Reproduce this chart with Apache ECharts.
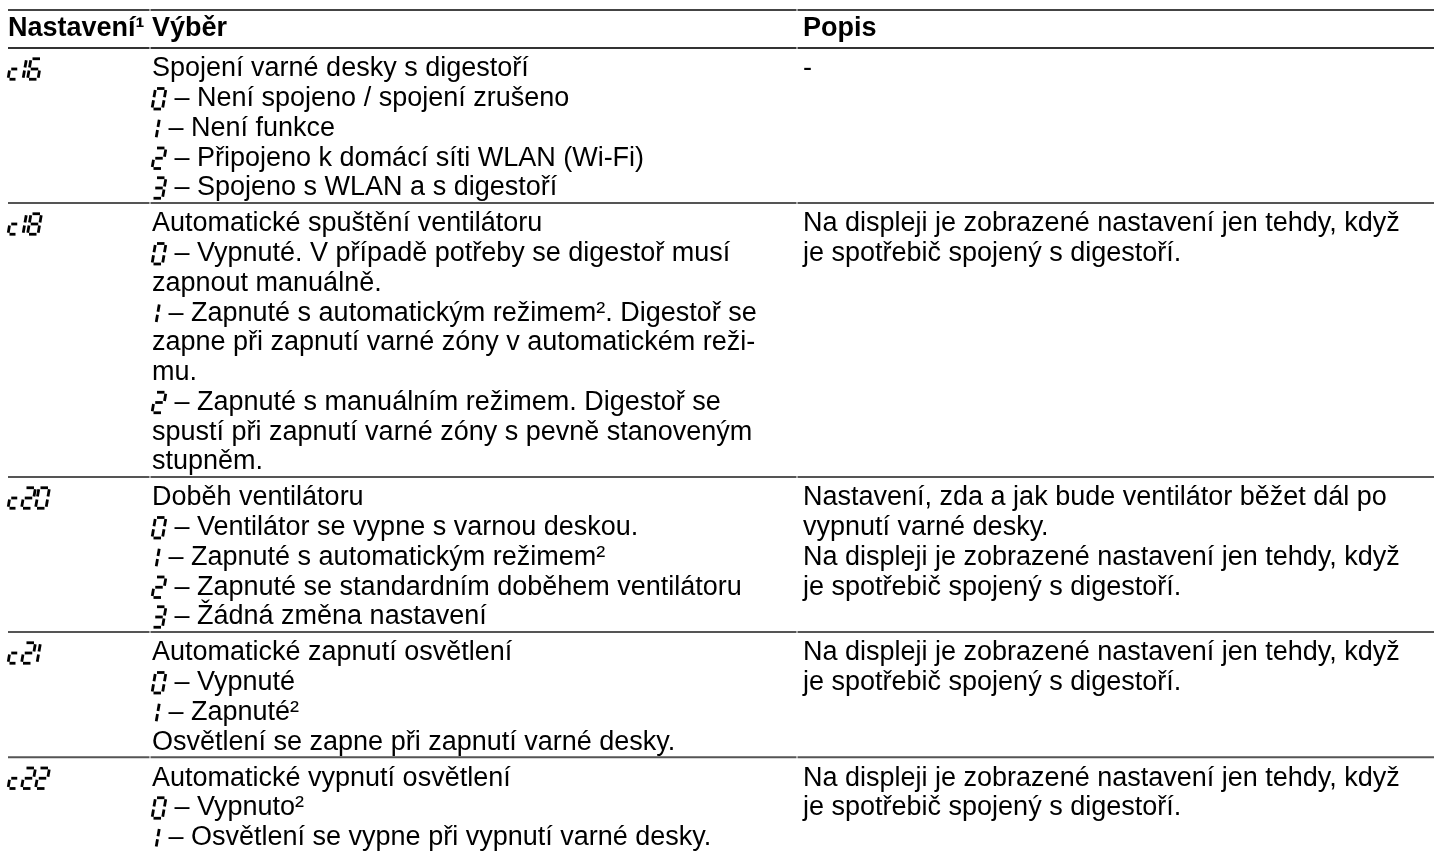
<!DOCTYPE html>
<html>
<head>
<meta charset="utf-8">
<script src="https://cdn.jsdelivr.net/npm/echarts@6/dist/echarts.min.js"></script>
<style>
html,body{margin:0;padding:0;background:#fff;}
#chart{width:1434px;height:852px;}
</style>
</head>
<body>
<div id="chart"></div>
<script>
// ---------- DATA ----------
const headers = ['Nastavení¹', 'Výběr', 'Popis'];
const codes = ['c16', 'c18', 'c20', 'c21', 'c22'];

const selC16 = [
  'Spojení varné desky s digestoří',
  '0 – Není spojeno / spojení zrušeno',
  '1 – Není funkce',
  '2 – Připojeno k domácí síti WLAN (Wi-Fi)',
  '3 – Spojeno s WLAN a s digestoří'
];
const selC18 = [
  'Automatické spuštění ventilátoru',
  '0 – Vypnuté. V případě potřeby se digestoř musí',
  'zapnout manuálně.',
  '1 – Zapnuté s automatickým režimem². Digestoř se',
  'zapne při zapnutí varné zóny v automatickém reži-',
  'mu.',
  '2 – Zapnuté s manuálním režimem. Digestoř se',
  'spustí při zapnutí varné zóny s pevně stanoveným',
  'stupněm.'
];
const selC20 = [
  'Doběh ventilátoru',
  '0 – Ventilátor se vypne s varnou deskou.',
  '1 – Zapnuté s automatickým režimem²',
  '2 – Zapnuté se standardním doběhem ventilátoru',
  '3 – Žádná změna nastavení'
];
const selC21 = [
  'Automatické zapnutí osvětlení',
  '0 – Vypnuté',
  '1 – Zapnuté²',
  'Osvětlení se zapne při zapnutí varné desky.'
];
const selC22 = [
  'Automatické vypnutí osvětlení',
  '0 – Vypnuto²',
  '1 – Osvětlení se vypne při vypnutí varné desky.'
];

const descC16 = ['-'];
const descC18 = ['Na displeji je zobrazené nastavení jen tehdy, když', 'je spotřebič spojený s digestoří.'];
const descC20 = ['Nastavení, zda a jak bude ventilátor běžet dál po', 'vypnutí varné desky.', 'Na displeji je zobrazené nastavení jen tehdy, když', 'je spotřebič spojený s digestoří.'];
const descC21 = ['Na displeji je zobrazené nastavení jen tehdy, když', 'je spotřebič spojený s digestoří.'];
const descC22 = ['Na displeji je zobrazené nastavení jen tehdy, když', 'je spotřebič spojený s digestoří.'];

const selections = [selC16, selC18, selC20, selC21, selC22];
const descriptions = [descC16, descC18, descC20, descC21, descC22];

// ---------- LAYOUT ----------
const W = 1434, H = 852;
const LH = 29.75;           // px per text line (1 y-axis unit)
const SEP0 = 48;            // header bottom rule (px)
const TOPLINE = 10;         // top rule (px)
const HEADER_Y = 29;        // header text centre (px)
const PAD = 6.25;           // extra px per row
const FIRST = 21;           // first line centre below rule (px)
const colX = [8, 152, 803];
const ruleSegs = [[8, 149.5], [150.5, 796.5], [797.5, W]];
const FONT = 27;
const FAMILY = '"Liberation Sans", Arial, Helvetica, sans-serif';
const TEXT_COLOR = '#000';
const RULE_COLOR = '#555';

// row start in line units
const rowStart = [];
(function () {
  let u = SEP0 / LH;
  for (let r = 0; r < codes.length; r++) {
    rowStart.push(u);
    const n = Math.max(selections[r].length, descriptions[r].length);
    u += n + PAD / LH;
  }
})();

// seven-segment glyphs
const SEGS = {
  a: [[0, 1], [1, 1]], b: [[1, 1], [1, 0.5]], c: [[1, 0.5], [1, 0]],
  d: [[0, 0], [1, 0]], e: [[0, 0.5], [0, 0]], f: [[0, 1], [0, 0.5]],
  g: [[0, 0.5], [1, 0.5]]
};
const DIGITS = { '0': 'abcdef', '1': 'bc', '2': 'abged', '3': 'abgcd', '6': 'afgedc', '8': 'abcdefg', 'c': 'ged' };
const SEG_H = 20.5, SLANT = 0.17, GAP = 1.5, SEG_W = 2.8;
function glyphWidth(ch, inCode) { if (ch === '1') return inCode ? 1.5 : 4; if (ch === 'c') return 9; return 10.5; }
function glyphAdv(ch, inCode) { if (ch === '1') return inCode ? 6 : 9; if (ch === 'c') return 13.5; return inCode ? 14 : 15; }

function sevenSeg(str, x0, yc, inCode) {
  const out = [];
  let x = x0;
  for (const ch of str) {
    const w = glyphWidth(ch, inCode);
    const segs = DIGITS[ch] || '';
    for (const s of segs) {
      const [[u1, v1], [u2, v2]] = SEGS[s];
      const P = (u, v) => [x + u * w + v * SEG_H * SLANT, yc + SEG_H / 2 - v * SEG_H];
      let p1 = P(u1, v1), p2 = P(u2, v2);
      const dx = p2[0] - p1[0], dy = p2[1] - p1[1];
      const len = Math.sqrt(dx * dx + dy * dy);
      const gx = dx / len * GAP, gy = dy / len * GAP;
      p1 = [p1[0] + gx, p1[1] + gy];
      p2 = [p2[0] - gx, p2[1] - gy];
      out.push({ type: 'line', shape: { x1: p1[0], y1: p1[1], x2: p2[0], y2: p2[1] },
        style: { stroke: TEXT_COLOR, lineWidth: SEG_W, lineCap: 'butt' } });
    }
    x += glyphAdv(ch, inCode);
  }
  return out;
}

function textEl(text, x, y, bold) {
  return { type: 'text', x: x, y: y,
    style: { text: text, fill: TEXT_COLOR, fontSize: FONT, fontFamily: FAMILY,
      fontWeight: bold ? 'bold' : 'normal', align: 'left', verticalAlign: 'middle',
      textAlign: 'left', textVerticalAlign: 'middle' } };
}

function rules(api, yUnit, color) {
  const y = api.coord([0, yUnit])[1];
  return ruleSegs.map(([a, b]) => ({ type: 'line',
    shape: { x1: api.coord([a, 0])[0], y1: y, x2: api.coord([b, 0])[0], y2: y },
    style: { stroke: color, lineWidth: 2 } }));
}

function renderHeader(params, api) {
  const children = rules(api, TOPLINE / LH, '#444');
  const y = api.coord([0, HEADER_Y / LH])[1];
  headers.forEach((h, i) => children.push(textEl(h, api.coord([colX[i], 0])[0], y, true)));
  return { type: 'group', children };
}

function renderRow(params, api) {
  const r = api.value(0);
  const start = rowStart[r];
  const children = rules(api, start, r === 0 ? '#333' : RULE_COLOR);
  const yOf = i => api.coord([0, start + FIRST / LH + i])[1];
  const xOf = v => api.coord([v, 0])[0];
  children.push(...sevenSeg(codes[r], xOf(colX[0]), yOf(0), true));
  selections[r].forEach((line, i) => {
    const y = yOf(i);
    const m = /^([0-9])( – .*)$/.exec(line);
    if (m) {
      const x0 = xOf(colX[1]);
      children.push(...sevenSeg(m[1], x0, y, false));
      children.push(textEl(m[2], x0 + glyphAdv(m[1], false), y, false));
    } else {
      children.push(textEl(line, xOf(colX[1]), y, false));
    }
  });
  descriptions[r].forEach((line, i) => children.push(textEl(line, xOf(colX[2]), yOf(i), false)));
  return { type: 'group', children };
}

const chart = echarts.init(document.getElementById('chart'), null, { renderer: 'canvas' });
chart.setOption({
  animation: false,
  backgroundColor: '#fff',
  grid: { left: 0, right: 0, top: 0, bottom: 0 },
  xAxis: { type: 'value', min: 0, max: W, show: false },
  yAxis: { type: 'value', min: 0, max: H / LH, inverse: true, show: false },
  series: [
    { type: 'custom', renderItem: renderHeader, data: [[0, 0]], clip: false, silent: true },
    { type: 'custom', renderItem: renderRow, data: codes.map((c, i) => [i, 0]), clip: false, silent: true }
  ]
});
</script>
</body>
</html>
